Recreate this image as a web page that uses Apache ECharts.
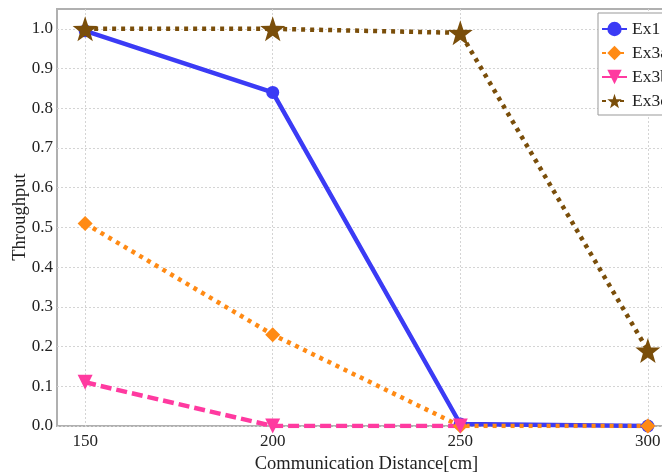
<!DOCTYPE html>
<html>
<head>
<meta charset="utf-8">
<script src="https://cdn.jsdelivr.net/npm/echarts@6/dist/echarts.min.js"></script>
<style>
html,body{margin:0;padding:0;background:#fff;overflow:hidden;}
#chart{width:662px;height:472px;}
</style>
</head>
<body>
<div id="chart"></div>
<script>
// Throughput versus communication distance for four experiments
const distances = [150, 200, 250, 300];
const ex1 = [0.995, 0.84, 0.005, 0.0];
const ex3a = [0.51, 0.23, 0.0, 0.0];
const ex3b = [0.11, 0.0, 0.0, null];
const ex3c = [1.0, 1.0, 0.99, 0.19];
const seriesNames = ['Ex1', 'Ex3a', 'Ex3b', 'Ex3c'];
const yTicks = [0, 0.1, 0.2, 0.3, 0.4, 0.5, 0.6, 0.7, 0.8, 0.9, 1.0];

const pairs = vals => distances.map((d, i) => [d, vals[i]]).filter(p => p[1] !== null);
const font = 'Liberation Serif';
const starPath = 'path://M0,-10 L2.35,-3.24 L9.51,-3.09 L3.8,1.24 L5.88,8.09 L0,4 L-5.88,8.09 L-3.8,1.24 L-9.51,-3.09 L-2.35,-3.24 Z';

const chart = echarts.init(document.getElementById('chart'), null, {renderer: 'canvas'});

function line(name, vals, color, type, symbol, size, width, rotate) {
  return {
    name, type: 'line', data: pairs(vals),
    symbol, symbolSize: size, symbolRotate: rotate || 0,
    lineStyle: {color, width, type},
    itemStyle: {color, borderWidth: 0},
    emphasis: {disabled: true},
    animation: false
  };
}

chart.setOption({
  backgroundColor: '#fff',
  textStyle: {fontFamily: font},
  grid: {left: 57, width: 619, top: 9, height: 417, show: true,
    borderColor: '#b0b0b0', borderWidth: 2, outerBoundsMode: 'none', containLabel: false},
  legend: {
    orient: 'vertical', left: 598, top: 13,
    backgroundColor: '#fff', borderColor: '#999', borderWidth: 1,
    padding: [7, 8, 5, 3], itemGap: 6, itemWidth: 25, itemHeight: 18,
    textStyle: {fontFamily: font, fontSize: 17.5, color: '#222'},
    data: seriesNames
  },
  // vertical axis title
  graphic: [{
    type: 'text', x: 20, y: 217, rotation: Math.PI / 2,
    style: {text: 'Throughput', font: '18.5px "Liberation Serif"', fill: '#222',
      align: 'center', verticalAlign: 'middle'}
  }],
  xAxis: {
    type: 'value', min: 142.5, max: 307.5,
    name: 'Communication Distance[cm]', nameLocation: 'middle', nameGap: 26,
    nameTextStyle: {fontFamily: font, fontSize: 18.5, color: '#222'},
    axisLine: {show: false},
    axisTick: {show: false, customValues: distances},
    axisLabel: {customValues: distances, fontFamily: font, fontSize: 17, color: '#222', margin: 7},
    splitLine: {show: true, lineStyle: {color: '#d4d4d4', type: [2, 2], width: 1}}
  },
  yAxis: {
    type: 'value', min: 0, max: 1.05,
    axisLine: {show: false},
    axisTick: {show: false, customValues: yTicks},
    axisLabel: {customValues: yTicks, fontFamily: font, fontSize: 17, color: '#222', margin: 4,
      formatter: v => v.toFixed(1)},
    splitLine: {show: true, lineStyle: {color: '#d4d4d4', type: [2, 2], width: 1}}
  },
  series: [
    line('Ex1', ex1, '#3b3bf5', 'solid', 'circle', 13, 4.5),
    line('Ex3a', ex3a, '#ff8a14', [4, 5], 'diamond', 15, 4.5),
    line('Ex3b', ex3b, '#ff3aa0', [11, 5], 'triangle', 15, 4.5, 180),
    line('Ex3c', ex3c, '#7a4e0a', [4, 5], starPath, 25, 4.5)
  ]
});
</script>
</body>
</html>
